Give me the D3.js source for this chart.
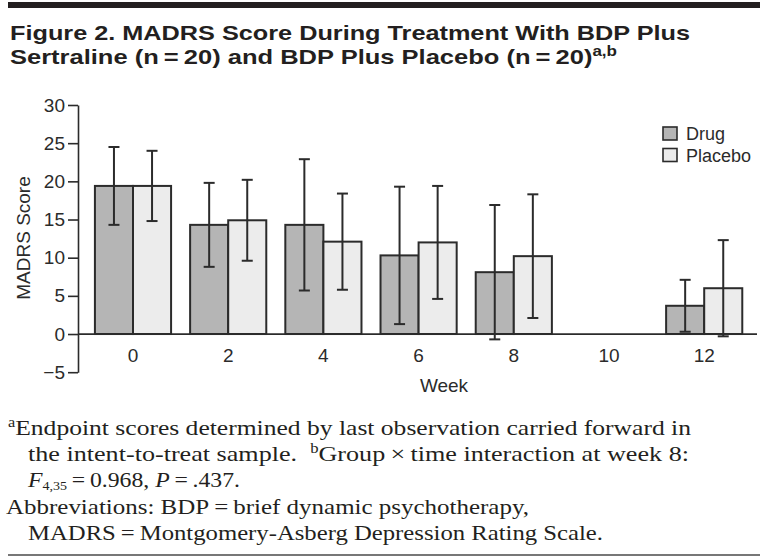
<!DOCTYPE html>
<html>
<head>
<meta charset="utf-8">
<script src="https://cdn.jsdelivr.net/npm/d3@7"></script>
<style>
  html, body { margin: 0; padding: 0; background: #fff; }
  svg { display: block; }
</style>
</head>
<body>
<svg id="chart" width="768" height="560"></svg>
<script>
// ---- data ----
const weeks = ["0", "2", "4", "6", "8", "10", "12"];
const seriesNames = ["Drug", "Placebo"];
const drugMean = [19.4, 14.3, 14.3, 10.3, 8.1, null, 3.7];
const drugSD = [5.1, 5.5, 8.6, 9.0, 8.8, null, 3.4];
const placeboMean = [19.4, 14.9, 12.1, 12.0, 10.2, null, 6.0];
const placeboSD = [4.6, 5.3, 6.3, 7.4, 8.1, null, 6.3];
const yTicks = [-5, 0, 5, 10, 15, 20, 25, 30];

const titleLines = [
  "Figure 2. MADRS Score During Treatment With BDP Plus",
  "Sertraline (n\u2009=\u200920) and BDP Plus Placebo (n\u2009=\u200920)"
];
const titleSup = "a,b";

// ---- layout ----
const svg = d3.select("#chart");
const sans = "'Liberation Sans', Arial, sans-serif";
const serif = "'Liberation Serif', 'Times New Roman', serif";
const ink = "#2b2b2b";
const fills = { Drug: "#b5b5b5", Placebo: "#ececec" };

// top bar
svg.append("rect").attr("x", 8).attr("y", 2).attr("width", 752).attr("height", 6).attr("fill", "#231f20");

// title
const t1 = svg.append("text").attr("x", 10).attr("y", 39.5)
  .attr("font-family", sans).attr("font-weight", 700).attr("font-size", 21).attr("fill", "#231f20")
  .attr("textLength", 680).attr("lengthAdjust", "spacingAndGlyphs")
  .text(titleLines[0]);
const t2 = svg.append("text").attr("x", 10).attr("y", 63.5)
  .attr("font-family", sans).attr("font-weight", 700).attr("font-size", 21).attr("fill", "#231f20")
  .attr("textLength", 607).attr("lengthAdjust", "spacingAndGlyphs");
t2.append("tspan").text(titleLines[1]);
t2.append("tspan").attr("dy", -8).attr("font-size", 14).text(titleSup);

const y = d3.scaleLinear().domain([-5, 30]).range([372.2, 105]);
const x = d3.scaleBand().domain(weeks).range([85.4, 751.8]).paddingInner(0.2).paddingOuter(0.1);
const xs = d3.scaleBand().domain(seriesNames).range([0, x.bandwidth()]);

const axisX0 = 78;

// y axis
const yAxis = svg.append("g").attr("transform", `translate(${axisX0},0)`)
  .call(d3.axisLeft(y).tickValues(yTicks).tickSize(10).tickSizeOuter(0).tickPadding(3));
yAxis.selectAll("path, line").attr("stroke", ink).attr("stroke-width", 1.6);
yAxis.selectAll("text").attr("font-family", sans).attr("font-size", 19).attr("fill", ink);

// bars
const rows = weeks.map((w, i) => ({
  week: w,
  vals: [
    { s: "Drug", m: drugMean[i], sd: drugSD[i] },
    { s: "Placebo", m: placeboMean[i], sd: placeboSD[i] }
  ].filter(d => d.m != null)
}));

const g = svg.append("g");
const grp = g.selectAll("g.grp").data(rows).join("g")
  .attr("transform", d => `translate(${x(d.week)},0)`);

grp.selectAll("rect").data(d => d.vals).join("rect")
  .attr("x", d => xs(d.s))
  .attr("width", xs.bandwidth())
  .attr("y", d => y(d.m))
  .attr("height", d => y(0) - y(d.m))
  .attr("fill", d => fills[d.s])
  .attr("stroke", ink).attr("stroke-width", 2);

// x axis baseline
svg.append("line").attr("x1", axisX0).attr("x2", 757).attr("y1", y(0)).attr("y2", y(0))
  .attr("stroke", ink).attr("stroke-width", 1.8);

// error bars
const eb = grp.selectAll("g.eb").data(d => d.vals).join("g")
  .attr("transform", d => `translate(${xs(d.s) + xs.bandwidth() / 2},0)`);
eb.append("line").attr("x1", 0).attr("x2", 0)
  .attr("y1", d => y(d.m - d.sd)).attr("y2", d => y(d.m + d.sd))
  .attr("stroke", ink).attr("stroke-width", 2);
eb.selectAll("line.cap").data(d => [d.m - d.sd, d.m + d.sd]).join("line").attr("class", "cap")
  .attr("x1", -5.5).attr("x2", 5.5).attr("y1", v => y(v)).attr("y2", v => y(v))
  .attr("stroke", ink).attr("stroke-width", 2);

// x labels
const xAxis = svg.append("g").attr("transform", `translate(0,${y(0)})`)
  .call(d3.axisBottom(x).tickSize(0).tickPadding(14));
xAxis.select(".domain").remove();
xAxis.selectAll("text").attr("font-family", sans).attr("font-size", 19).attr("fill", ink);

// axis titles
svg.append("text").attr("x", 444).attr("y", 392).attr("text-anchor", "middle")
  .attr("font-family", sans).attr("font-size", 19).attr("fill", ink).text("Week");
svg.append("text").attr("transform", "translate(30,238) rotate(-90)").attr("text-anchor", "middle")
  .attr("font-family", sans).attr("font-size", 19).attr("fill", ink).text("MADRS Score");

// legend
const lg = svg.append("g").selectAll("g").data(seriesNames).join("g")
  .attr("transform", (d, i) => `translate(663,${127 + i * 21.5})`);
lg.append("rect").attr("width", 14).attr("height", 13)
  .attr("fill", d => fills[d]).attr("stroke", ink).attr("stroke-width", 1.6);
lg.append("text").attr("x", 23).attr("y", 13)
  .attr("font-family", sans).attr("font-size", 18).attr("fill", ink).text(d => d);

// footnotes
const fn = svg.append("g").attr("font-family", serif).attr("font-size", 22).attr("fill", "#231f20");
const l1 = fn.append("text").attr("x", 8).attr("y", 435)
  .attr("textLength", 683).attr("lengthAdjust", "spacingAndGlyphs");
l1.append("tspan").attr("font-size", 14).attr("dy", -8).text("a");
l1.append("tspan").attr("dy", 8).text("Endpoint scores determined by last observation carried forward in");
const l2 = fn.append("text").attr("x", 28).attr("y", 461)
  .attr("textLength", 661).attr("lengthAdjust", "spacingAndGlyphs");
l2.append("tspan").text("the intent-to-treat sample.\u2002");
l2.append("tspan").attr("font-size", 14).attr("dy", -8).text("b");
l2.append("tspan").attr("dy", 8).text("Group\u2009\u00d7\u2009time interaction at week 8:");
const l3 = fn.append("text").attr("x", 28).attr("y", 487)
  .attr("textLength", 212).attr("lengthAdjust", "spacingAndGlyphs");
l3.append("tspan").attr("font-style", "italic").text("F");
l3.append("tspan").attr("font-size", 13).attr("dy", 3).text("4,35");
l3.append("tspan").attr("dy", -3).text("\u2009=\u20090.968, ");
l3.append("tspan").attr("font-style", "italic").text("P");
l3.append("tspan").text("\u2009=\u2009.437.");
fn.append("text").attr("x", 6).attr("y", 513.5)
  .attr("textLength", 523).attr("lengthAdjust", "spacingAndGlyphs")
  .text("Abbreviations: BDP\u2009=\u2009brief dynamic psychotherapy,");
fn.append("text").attr("x", 28).attr("y", 540)
  .attr("textLength", 575).attr("lengthAdjust", "spacingAndGlyphs")
  .text("MADRS\u2009=\u2009Montgomery-Asberg Depression Rating Scale.");

// bottom rule
svg.append("rect").attr("x", 8).attr("y", 554).attr("width", 752).attr("height", 2).attr("fill", "#777");
</script>
</body>
</html>
